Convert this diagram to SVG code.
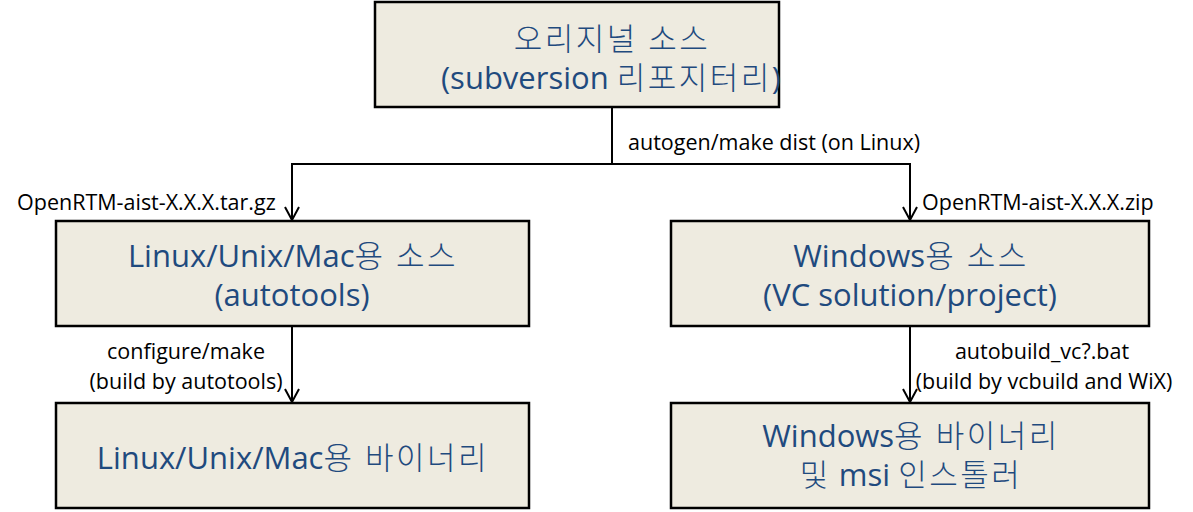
<svg xmlns="http://www.w3.org/2000/svg" width="1193" height="512" viewBox="0 0 1193 512">
<style>
.box{fill:#EEEBE0;stroke:#000;stroke-width:2.5}
.t{font-family:"Open Sans","Noto Sans CJK KR",sans-serif;font-size:31px;fill:#1F4A7E;text-anchor:middle}
.k{letter-spacing:2.5px;font-weight:300}
.l{font-family:"Open Sans","Noto Sans CJK KR",sans-serif;font-size:21.5px;fill:#000}
.c{fill:none;stroke:#000;stroke-width:2}
</style>
<defs>
<marker id="arr" markerWidth="16" markerHeight="16" refX="14" refY="8" orient="auto" markerUnits="userSpaceOnUse">
<polyline points="1,1 14,8 1,15" fill="none" stroke="#000" stroke-width="2"/>
</marker>
</defs>
<g id="connectors">
<polyline class="c" points="612,107 612,164 292,164 292,220" marker-end="url(#arr)"/>
<polyline class="c" points="612,164 910,164 910,220" marker-end="url(#arr)"/>
<line class="c" x1="292" y1="327" x2="292" y2="402" marker-end="url(#arr)"/>
<line class="c" x1="910" y1="327" x2="910" y2="402" marker-end="url(#arr)"/>
<text class="l" x="628" y="150">autogen/make dist (on Linux)</text>
<text class="l" x="17" y="210">OpenRTM-aist-X.X.X.tar.gz</text>
<text class="l" x="922" y="210">OpenRTM-aist-X.X.X.zip</text>
<text class="l" x="186" y="359" text-anchor="middle">configure/make</text>
<text class="l" x="186" y="389" text-anchor="middle">(build by autotools)</text>
<text class="l" x="1042" y="359" text-anchor="middle">autobuild_vc?.bat</text>
<text class="l" x="1044" y="389" text-anchor="middle">(build by vcbuild and WiX)</text>
</g>
<g id="node-origin">
<rect class="box" x="375" y="2" width="404" height="105"/>
<text class="t" x="612" y="50"><tspan class="k">오리지널 소스</tspan></text>
<text class="t" x="611" y="89">(subversion <tspan class="k">리포지터리</tspan>)</text>
</g>
<g id="node-linux-src">
<rect class="box" x="56" y="221" width="473" height="105"/>
<text class="t" x="293" y="267">Linux/Unix/Mac<tspan class="k">용 소스</tspan></text>
<text class="t" x="292" y="306">(autotools)</text>
</g>
<g id="node-win-src">
<rect class="box" x="671" y="221" width="478" height="105"/>
<text class="t" x="911" y="267">Windows<tspan class="k">용 소스</tspan></text>
<text class="t" x="910" y="306">(VC solution/project)</text>
</g>
<g id="node-linux-bin">
<rect class="box" x="56" y="403" width="473" height="105"/>
<text class="t" x="293" y="469">Linux/Unix/Mac<tspan class="k">용 바이너리</tspan></text>
</g>
<g id="node-win-bin">
<rect class="box" x="671" y="403" width="478" height="105"/>
<text class="t" x="911" y="447">Windows<tspan class="k">용 바이너리</tspan></text>
<text class="t" x="911" y="486"><tspan class="k">및</tspan> msi <tspan class="k">인스톨러</tspan></text>
</g>
</svg>
